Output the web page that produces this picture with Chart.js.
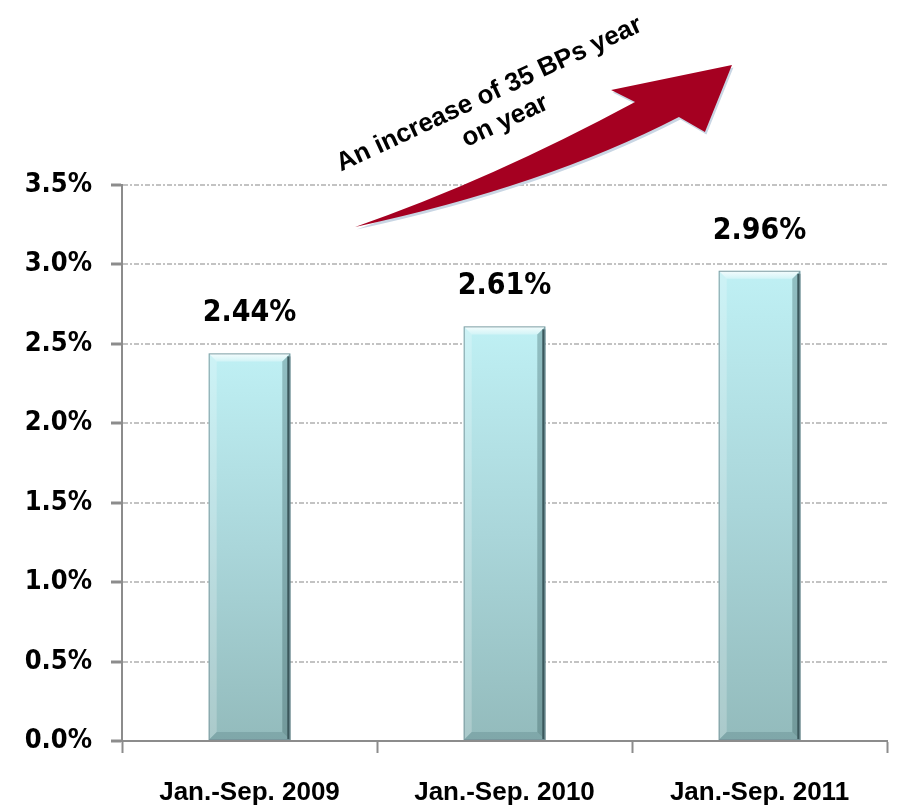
<!DOCTYPE html>
<html>
<head>
<meta charset="utf-8">
<script src="https://cdn.jsdelivr.net/npm/chart.js@4/dist/chart.umd.min.js"></script>
<style>
  html, body { margin: 0; padding: 0; background: #fff; }
  #nplChart { display: block; }
</style>
</head>
<body>
<canvas id="nplChart" width="917" height="808"></canvas>
<script>
// categories and values
const periods = ['Jan.-Sep. 2009', 'Jan.-Sep. 2010', 'Jan.-Sep. 2011'];
const ratioValues = [2.44, 2.61, 2.96];
const yTickValues = [0, 0.5, 1.0, 1.5, 2.0, 2.5, 3.0, 3.5];
const arrowNote = ['An increase of 35 BPs year', 'on year'];

const tickFont = "'DejaVu Sans Condensed', 'DejaVu Sans', sans-serif";
const axisGrey = '#8c8c8c';

// vertical cyan gradient per bar, light at the top
function barGradient(context) {
    const chart = context.chart;
    const yScale = chart.scales.y;
    if (!chart.chartArea || !yScale) return '#abd6da';
    const v = context.parsed ? context.parsed.y : ratioValues[context.dataIndex];
    const top = yScale.getPixelForValue(v);
    const base = yScale.getPixelForValue(0);
    const g = chart.ctx.createLinearGradient(0, top, 0, base);
    g.addColorStop(0, '#bff0f4');
    g.addColorStop(0.5, '#aad6da');
    g.addColorStop(1, '#93bbbc');
    return g;
}

// bevel edges on the bars and the value labels above them
const barDecor = {
    id: 'barDecor',
    afterDatasetsDraw(chart) {
        const ctx = chart.ctx;
        const meta = chart.getDatasetMeta(0);
        meta.data.forEach((bar, i) => {
            const {x, y, base, width} = bar.getProps(['x', 'y', 'base', 'width'], true);
            const l = x - width / 2, r = x + width / 2;
            const b = 8;
            ctx.save();
            // top highlight
            const hl = ctx.createLinearGradient(0, y, 0, y + b);
            hl.addColorStop(0, 'rgba(255,255,255,0.85)');
            hl.addColorStop(1, 'rgba(255,255,255,0.3)');
            ctx.fillStyle = hl;
            ctx.beginPath();
            ctx.moveTo(l, y); ctx.lineTo(r, y); ctx.lineTo(r - b, y + b); ctx.lineTo(l + b, y + b);
            ctx.closePath(); ctx.fill();
            // left light edge
            ctx.fillStyle = 'rgba(255,255,255,0.22)';
            ctx.beginPath();
            ctx.moveTo(l, y); ctx.lineTo(l + b, y + b); ctx.lineTo(l + b, base - b); ctx.lineTo(l, base);
            ctx.closePath(); ctx.fill();
            // right shaded edge
            ctx.fillStyle = 'rgba(40,75,80,0.3)';
            ctx.beginPath();
            ctx.moveTo(r, y); ctx.lineTo(r, base); ctx.lineTo(r - b, base - b); ctx.lineTo(r - b, y + b);
            ctx.closePath(); ctx.fill();
            // bottom shaded edge
            ctx.fillStyle = 'rgba(50,90,95,0.2)';
            ctx.beginPath();
            ctx.moveTo(l, base); ctx.lineTo(r, base); ctx.lineTo(r - b, base - b); ctx.lineTo(l + b, base - b);
            ctx.closePath(); ctx.fill();
            // dark right rim
            ctx.fillStyle = '#3b585c';
            ctx.fillRect(r - 3, y + 3, 3, base - y - 3);
            // outline
            ctx.strokeStyle = 'rgba(120,150,155,0.9)';
            ctx.lineWidth = 1;
            ctx.strokeRect(l + 0.5, y + 0.5, width - 1, base - y - 1);
            ctx.restore();

            // value label
            ctx.save();
            ctx.font = "bold 30px " + tickFont;
            ctx.fillStyle = '#000';
            ctx.textAlign = 'center';
            ctx.textBaseline = 'middle';
            ctx.fillText(ratioValues[i].toFixed(2) + '%', x, y - 40);
            ctx.restore();
        });
    }
};

// curved red arrow with the rotated note, placed in category/value units
const trendArrow = {
    id: 'trendArrow',
    afterDraw(chart) {
        const xs = chart.scales.x, ys = chart.scales.y;
        const at = (i, v) => [xs.getPixelForValue(i), ys.getPixelForValue(v)];
        const tail = at(0.414, 3.236);
        const upperCtrl = at(0.943, 3.53);
        const notchL = at(1.512, 4.022);
        const barbL = at(1.418, 4.098);
        const tip = at(1.892, 4.255);
        const barbR = at(1.786, 3.834);
        const notchR = at(1.684, 3.928);
        const lowerCtrl = at(1.159, 3.493);
        const ctx = chart.ctx;

        const shape = (dx, dy) => {
            ctx.beginPath();
            ctx.moveTo(tail[0] + dx, tail[1] + dy);
            ctx.quadraticCurveTo(upperCtrl[0] + dx, upperCtrl[1] + dy, notchL[0] + dx, notchL[1] + dy);
            ctx.lineTo(barbL[0] + dx, barbL[1] + dy);
            ctx.lineTo(tip[0] + dx, tip[1] + dy);
            ctx.lineTo(barbR[0] + dx, barbR[1] + dy);
            ctx.lineTo(notchR[0] + dx, notchR[1] + dy);
            ctx.quadraticCurveTo(lowerCtrl[0] + dx, lowerCtrl[1] + dy, tail[0] + dx, tail[1] + dy);
            ctx.closePath();
        };

        ctx.save();
        shape(1.5, 2.5);
        ctx.fillStyle = '#c9d6e4';
        ctx.fill();
        shape(0, 0);
        ctx.fillStyle = '#a50021';
        ctx.fill();
        ctx.restore();

        // note text
        const c = at(0.965, 3.985);
        ctx.save();
        ctx.translate(c[0], c[1]);
        ctx.rotate(-25 * Math.PI / 180);
        ctx.font = "bold 26px 'Liberation Sans', Arial, sans-serif";
        ctx.fillStyle = '#000';
        ctx.textAlign = 'center';
        ctx.textBaseline = 'middle';
        ctx.fillText(arrowNote[0], 0, -15);
        ctx.fillText(arrowNote[1], 3, 16);
        ctx.restore();
    }
};

const ctx = document.getElementById('nplChart').getContext('2d');
new Chart(ctx, {
    type: 'bar',
    data: {
        labels: periods,
        datasets: [{
            data: ratioValues,
            backgroundColor: barGradient,
            borderWidth: 0,
            categoryPercentage: 1.0,
            barPercentage: 0.32
        }]
    },
    options: {
        responsive: false,
        animation: false,
        events: [],
        layout: { padding: { top: 185, right: 30, left: 0, bottom: 0 } },
        plugins: {
            legend: { display: false },
            tooltip: { enabled: false },
            title: { display: false }
        },
        scales: {
            x: {
                offset: true,
                grid: {
                    offset: true,
                    drawOnChartArea: false,
                    drawTicks: true,
                    tickLength: 12,
                    tickWidth: 2,
                    tickColor: axisGrey
                },
                border: { display: true, color: axisGrey, width: 2 },
                ticks: {
                    color: '#000',
                    padding: 24,
                    maxRotation: 0,
                    font: { family: "'Liberation Sans', Arial, sans-serif", size: 26, weight: 'bold' }
                },
                afterFit(scale) { scale.height = 67; }
            },
            y: {
                min: 0,
                max: 3.5,
                afterBuildTicks(axis) {
                    axis.ticks = yTickValues.map(v => ({ value: v }));
                },
                grid: {
                    color: c => (c.tick && c.tick.value === 0) ? 'rgba(0,0,0,0)' : '#c3c3c3',
                    lineWidth: 2,
                    drawTicks: true,
                    tickLength: 11,
                    tickWidth: 3,
                    tickColor: axisGrey,
                    tickBorderDash: []
                },
                border: { display: true, color: axisGrey, width: 2, dash: [5, 2, 2, 2] },
                ticks: {
                    color: '#000',
                    padding: 19,
                    callback: v => Number(v).toFixed(1) + '%',
                    font: { family: tickFont, size: 27, weight: 'bold' }
                },
                afterFit(scale) { scale.width = 122; }
            }
        }
    },
    plugins: [barDecor, trendArrow]
});
</script>
</body>
</html>
